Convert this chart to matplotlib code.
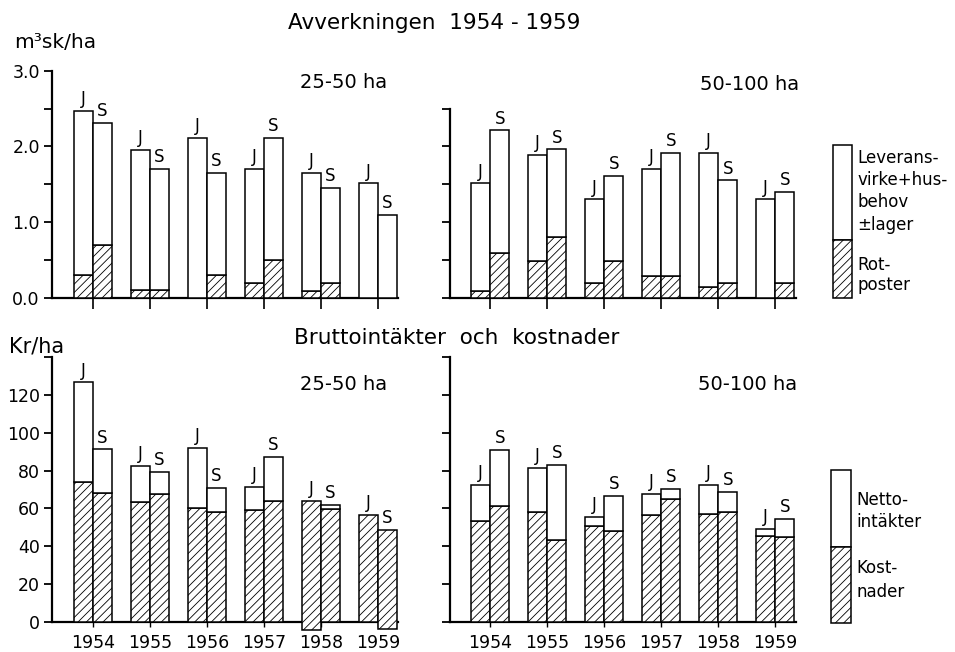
import matplotlib
matplotlib.use("Agg")
import matplotlib.pyplot as plt
from matplotlib.patches import Rectangle
from matplotlib.ticker import FixedLocator, FixedFormatter

plt.rcParams['font.family'] = ['DejaVu Sans']
plt.rcParams['hatch.linewidth'] = 0.6

# --- data --------------------------------------------------------------
years = ['1954', '1955', '1956', '1957', '1958', '1959']

# Avverkning, m3sk/ha: total height and the "rotposter" part (hatched)
avv_25_J_tot = [2.47, 1.95, 2.11, 1.70, 1.65, 1.51]
avv_25_J_rot = [0.30, 0.10, 0.00, 0.19, 0.09, 0.00]
avv_25_S_tot = [2.31, 1.70, 1.65, 2.11, 1.45, 1.09]
avv_25_S_rot = [0.69, 0.10, 0.30, 0.50, 0.20, 0.00]
avv_50_J_tot = [1.51, 1.89, 1.30, 1.70, 1.91, 1.30]
avv_50_J_rot = [0.09, 0.49, 0.19, 0.29, 0.14, 0.00]
avv_50_S_tot = [2.21, 1.96, 1.61, 1.91, 1.55, 1.40]
avv_50_S_rot = [0.59, 0.80, 0.49, 0.29, 0.19, 0.19]

# Bruttointakter and kostnader, kr/ha
kr_25_J_brutto = [126.5, 82.3, 91.9, 71.3, 60.0, 56.8]
kr_25_J_kost = [73.7, 63.3, 60.5, 59.3, 64.0, 56.8]
kr_25_S_brutto = [91.2, 79.3, 70.8, 87.3, 61.7, 45.0]
kr_25_S_kost = [68.2, 67.5, 57.9, 63.7, 59.6, 48.6]
kr_50_J_brutto = [72.4, 81.2, 55.4, 67.5, 72.6, 49.3]
kr_50_J_kost = [53.2, 58.4, 51.0, 56.5, 57.2, 45.3]
kr_50_S_brutto = [91.0, 82.9, 66.8, 70.5, 68.6, 54.7]
kr_50_S_kost = [61.2, 43.2, 48.2, 65.1, 58.1, 44.9]

W, H = 955, 652
BW = 0.335          # bar width in year units
HATCH = '////'
XLIM = (-0.71, 5.36)


def rect(x0, y_top, x1, y_bot):
    # pixel box (origin top left) -> figure fraction
    return [x0 / W, 1 - y_bot / H, (x1 - x0) / W, (y_bot - y_top) / H]


def fx(x):
    return x / W


def fy(y):
    return 1 - y / H


def style_axes(ax, top):
    ax.spines['top'].set_visible(False)
    ax.spines['right'].set_visible(False)
    ax.spines['left'].set_linewidth(1.6)
    ax.spines['bottom'].set_linewidth(1.6)
    ax.set_xlim(*XLIM)
    ax.set_xticks(range(len(years)))
    ax.tick_params(axis='y', direction='out', length=6, width=1.3, pad=3, labelsize=12.5)
    if top:
        ax.tick_params(axis='x', direction='out', length=8, width=1.2, labelbottom=False)
    else:
        ax.tick_params(axis='x', direction='inout', length=7, width=1.0, pad=5, labelsize=12.5)
        ax.set_xticklabels(years)


def draw_pair(ax, low, high, bottoms):
    # one J bar and one S bar per year: hatched part, then white part on top
    for k, (lo, hi, bt) in enumerate(zip(low, high, bottoms)):
        xs = [i + (k - 0.5) * BW for i in range(len(years))]
        for x, l, h, b in zip(xs, lo, hi, bt):
            if l - b > 0:
                ax.bar(x, l - b, bottom=b, width=BW, facecolor='white', edgecolor='black',
                       hatch=HATCH, linewidth=1.1, zorder=3)
            if h - l > 0:
                ax.bar(x, h - l, bottom=l, width=BW, facecolor='white', edgecolor='black',
                       linewidth=1.1, zorder=3)
            ax.annotate('JS'[k], (x, max(h, l)), xytext=(0, 2), textcoords='offset points',
                        ha='center', va='bottom', fontsize=12)


fig = plt.figure(figsize=(W / 100, H / 100), dpi=100)

# top row: avverkning
ax1 = fig.add_axes(rect(92.8 - 0.71 * 57, 70.7, 92.8 + 5.36 * 57, 297.7))
ax2 = fig.add_axes(rect(490.3 - 0.71 * 57, 70.7, 490.3 + 5.36 * 57, 297.7))
for ax, jt, jr, st, sr, top_lim in [(ax1, avv_25_J_tot, avv_25_J_rot, avv_25_S_tot, avv_25_S_rot, 3.0),
                                    (ax2, avv_50_J_tot, avv_50_J_rot, avv_50_S_tot, avv_50_S_rot, 2.5)]:
    style_axes(ax, True)
    ax.set_ylim(0, 3.0)
    ax.spines['left'].set_bounds(0, top_lim)
    ticks = [t * 0.5 for t in range(int(top_lim * 2) + 1)]
    ax.yaxis.set_major_locator(FixedLocator(ticks))
    if ax is ax1:
        ax.yaxis.set_major_formatter(FixedFormatter(['%.1f' % t if t == int(t) else '' for t in ticks]))
    else:
        ax.tick_params(axis='y', labelleft=False)
    draw_pair(ax, [jr, sr], [jt, st], [[0] * 6, [0] * 6])

# bottom row: kronor per hektar
ax3 = fig.add_axes(rect(92.8 - 0.71 * 57, 356.7, 92.8 + 5.36 * 57, 631.8))
ax4 = fig.add_axes(rect(490.3 - 0.71 * 57, 356.7, 490.3 + 5.36 * 57, 631.8))
for ax, jb, jk, sb, sk in [(ax3, kr_25_J_brutto, kr_25_J_kost, kr_25_S_brutto, kr_25_S_kost),
                           (ax4, kr_50_J_brutto, kr_50_J_kost, kr_50_S_brutto, kr_50_S_kost)]:
    style_axes(ax, False)
    ax.set_ylim(-5, 140)
    ax.spines['left'].set_bounds(0, 140)
    ax.spines['bottom'].set_position(('data', 0))
    ticks = list(range(0, 141, 20))
    ax.yaxis.set_major_locator(FixedLocator(ticks))
    if ax is ax3:
        ax.yaxis.set_major_formatter(FixedFormatter([str(t) if t < 140 else '' for t in ticks]))
    else:
        ax.tick_params(axis='y', labelleft=False)
    # a negative netto pushes the cost bar below the zero line
    jbot = [min(0, b - k) for b, k in zip(jb, jk)]
    sbot = [min(0, b - k) for b, k in zip(sb, sk)]
    draw_pair(ax, [jk, sk], [jb, sb], [jbot, sbot])

# titles and labels
fig.text(fx(434), fy(23), 'Avverkningen  1954 - 1959', ha='center', va='center', fontsize=15.5)
fig.text(fx(457), fy(338), 'Bruttointäkter  och  kostnader', ha='center', va='center', fontsize=15.5)
fig.text(fx(14), fy(42), 'm³sk/ha', ha='left', va='center', fontsize=14.5)
fig.text(fx(9), fy(346), 'Kr/ha', ha='left', va='center', fontsize=15)
fig.text(fx(300), fy(82), '25-50 ha', ha='left', va='center', fontsize=14)
fig.text(fx(300), fy(384), '25-50 ha', ha='left', va='center', fontsize=14)
fig.text(fx(700), fy(84), '50-100 ha', ha='left', va='center', fontsize=14)
fig.text(fx(698), fy(384), '50-100 ha', ha='left', va='center', fontsize=14)

# legend boxes
def legend_box(x0, x1, y_top, y_mid, y_bot):
    fig.add_artist(Rectangle((fx(x0), fy(y_mid)), fx(x1 - x0), (y_mid - y_top) / H,
                             transform=fig.transFigure, facecolor='white', edgecolor='black', linewidth=1.1))
    fig.add_artist(Rectangle((fx(x0), fy(y_bot)), fx(x1 - x0), (y_bot - y_mid) / H,
                             transform=fig.transFigure, facecolor='white', edgecolor='black',
                             hatch=HATCH, linewidth=1.1))


legend_box(833, 852, 145, 240, 298)
for txt, y in [('Leverans-', 158), ('virke+hus-', 180), ('behov', 202), ('±lager', 225),
               ('Rot-', 265), ('poster', 285)]:
    fig.text(fx(857), fy(y), txt, ha='left', va='center', fontsize=12)

legend_box(831, 851, 470, 547, 623)
for txt, y in [('Netto-', 500), ('intäkter', 522), ('Kost-', 568), ('nader', 592)]:
    fig.text(fx(856), fy(y), txt, ha='left', va='center', fontsize=12)

fig.savefig('out.png', dpi=100)
